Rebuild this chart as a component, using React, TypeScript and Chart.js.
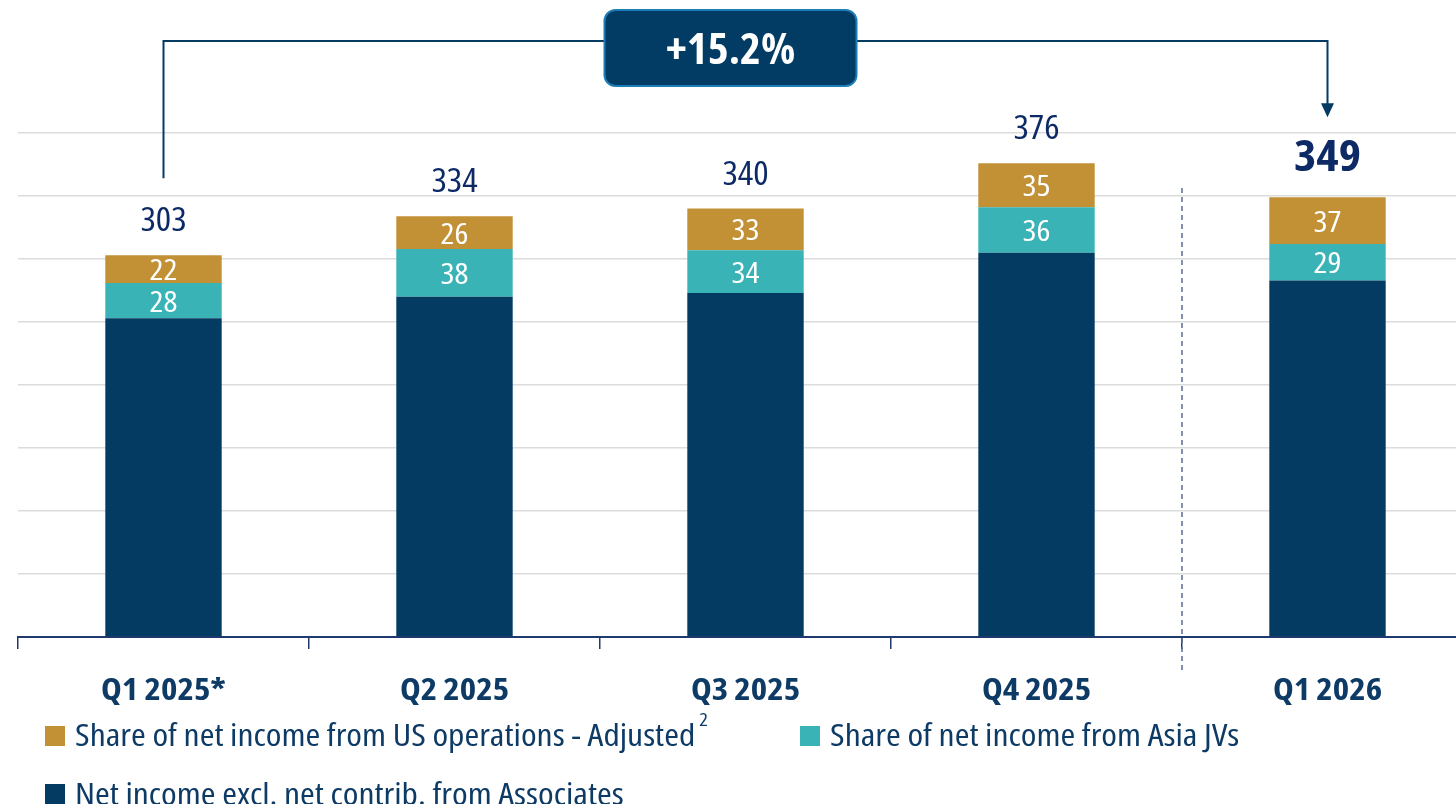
import React, { useEffect, useRef } from "react";
import { Chart, registerables } from "chart.js";

Chart.register(...registerables);

const categories = ["Q1 2025*", "Q2 2025", "Q3 2025", "Q4 2025", "Q1 2026"];
const netIncomeExcl = [253, 270, 273, 305, 283];
const asiaJVs = [28, 38, 34, 36, 29];
const usOps = [22, 26, 33, 35, 37];
const totals = [303, 334, 340, 376, 349];
const growthLabel = "+15.2%";
const legendLabels = [
  "Share of net income from US operations - Adjusted",
  "Share of net income from Asia JVs",
  "Net income excl. net contrib. from Associates",
];
const legendSup = "2";

const NAVY = "#033b63";
const TEAL = "#3ab3b7";
const GOLD = "#c39135";
const TEXT_NAVY = "#0d3b66";
const TOTAL_NAVY = "#0e2a66";
const FAMILY = '"Open Sans", "DejaVu Sans Condensed", sans-serif';

let condenseMode: "stretch" | "scale" | null = null;
function detectMode(ctx: CanvasRenderingContext2D) {
  if (condenseMode) return condenseMode;
  ctx.save();
  ctx.font = `400 40px ${FAMILY}`;
  const w1 = ctx.measureText("Share of net income").width;
  try {
    (ctx as any).fontStretch = "condensed";
  } catch (e) {}
  const w2 = ctx.measureText("Share of net income").width;
  ctx.restore();
  condenseMode = w2 < w1 * 0.92 ? "stretch" : "scale";
  return condenseMode;
}

function drawText(
  ctx: CanvasRenderingContext2D,
  text: string,
  x: number,
  y: number,
  weight: number,
  size: number,
  color: string,
  align: CanvasTextAlign = "center",
  widen = 1.13
): number {
  const mode = detectMode(ctx);
  ctx.save();
  ctx.font = `${weight} ${size}px ${FAMILY}`;
  ctx.fillStyle = color;
  ctx.textAlign = align;
  ctx.textBaseline = "alphabetic";
  let f = widen;
  if (mode === "stretch") {
    (ctx as any).fontStretch = "condensed";
  } else {
    f = 0.82 * widen;
  }
  ctx.translate(x, y);
  ctx.scale(f, 1);
  ctx.fillText(text, 0, 0);
  const w = ctx.measureText(text).width * f;
  ctx.restore();
  return w;
}

const overlayPlugin = {
  id: "overlay",
  afterDatasetsDraw(chart: any) {
    const ctx: CanvasRenderingContext2D = chart.ctx;
    const x = chart.scales.x;
    const y = chart.scales.y;

    // dashed separator between Q4 2025 and Q1 2026
    const sepX = (x.getPixelForValue(3) + x.getPixelForValue(4)) / 2;
    ctx.save();
    ctx.strokeStyle = "#5b6b93";
    ctx.lineWidth = 1.5;
    ctx.setLineDash([5, 4]);
    ctx.beginPath();
    ctx.moveTo(sepX, 188);
    ctx.lineTo(sepX, 672);
    ctx.stroke();
    ctx.restore();

    // segment labels
    const series = [netIncomeExcl, asiaJVs, usOps];
    categories.forEach((_, i) => {
      const cx = x.getPixelForValue(i);
      let base = 0;
      series.forEach((s, si) => {
        const top = base + s[i];
        if (si > 0) {
          const mid = (y.getPixelForValue(base) + y.getPixelForValue(top)) / 2;
          drawText(ctx, String(s[i]), cx, mid + 11, 400, 29, "#ffffff");
        }
        base = top;
      });
      const topPx = y.getPixelForValue(totals[i]);
      if (i === categories.length - 1) {
        drawText(ctx, String(totals[i]), cx, topPx - 26, 700, 42, TOTAL_NAVY);
      } else {
        drawText(ctx, String(totals[i]), cx, topPx - 24, 400, 32, TOTAL_NAVY);
      }
      // x-axis labels
      drawText(ctx, categories[i], cx, 700, 700, 31, TEXT_NAVY);
    });

    // growth bracket
    const lx = x.getPixelForValue(0);
    const rx = x.getPixelForValue(4);
    const by = 41;
    const lBottom = y.getPixelForValue(totals[0]) - 77;
    const tip = y.getPixelForValue(totals[4]) - 80;
    ctx.save();
    ctx.strokeStyle = NAVY;
    ctx.lineWidth = 2;
    ctx.beginPath();
    ctx.moveTo(lx, lBottom);
    ctx.lineTo(lx, by);
    ctx.lineTo(rx, by);
    ctx.lineTo(rx, tip - 13);
    ctx.stroke();
    ctx.fillStyle = NAVY;
    ctx.beginPath();
    ctx.moveTo(rx - 6.5, tip - 14);
    ctx.lineTo(rx + 6.5, tip - 14);
    ctx.lineTo(rx, tip);
    ctx.closePath();
    ctx.fill();
    // box
    const boxCx = (lx + rx) / 2 - 15;
    const bw = 252;
    const bh = 76;
    ctx.beginPath();
    (ctx as any).roundRect(boxCx - bw / 2, 10, bw, bh, 11);
    ctx.fillStyle = "#023b63";
    ctx.fill();
    ctx.strokeStyle = "#1d7db5";
    ctx.lineWidth = 2;
    ctx.stroke();
    ctx.restore();
    drawText(ctx, growthLabel, boxCx, 64, 700, 42, "#ffffff", "center", 1.06);

    // legend
    const colors = [GOLD, TEAL, NAVY];
    const items = [
      { sx: 45, sy: 726, ty: 746 },
      { sx: 800, sy: 726, ty: 746 },
      { sx: 45, sy: 784, ty: 805 },
    ];
    items.forEach((it, k) => {
      ctx.save();
      ctx.fillStyle = colors[k];
      ctx.fillRect(it.sx, it.sy, 20, 20);
      ctx.restore();
      const w = drawText(ctx, legendLabels[k], it.sx + 30, it.ty, 400, 31, TEXT_NAVY, "left", 1.15);
      if (k === 0) {
        drawText(ctx, legendSup, it.sx + 30 + w + 4, 726, 400, 18, TEXT_NAVY, "left");
      }
    });
  },
};

export default function App() {
  const ref = useRef<HTMLCanvasElement | null>(null);
  useEffect(() => {
    if (!ref.current) return;
    const chart = new Chart(ref.current, {
      type: "bar",
      data: {
        labels: categories,
        datasets: [
          { label: legendLabels[2], data: netIncomeExcl, backgroundColor: NAVY, borderWidth: 0 },
          { label: legendLabels[1], data: asiaJVs, backgroundColor: TEAL, borderWidth: 0 },
          { label: legendLabels[0], data: usOps, backgroundColor: GOLD, borderWidth: 0 },
        ],
      },
      options: {
        responsive: false,
        animation: false,
        devicePixelRatio: 1,
        layout: { padding: { left: 18, right: 17, top: 133, bottom: 155 } },
        datasets: { bar: { barPercentage: 0.4, categoryPercentage: 1 } },
        plugins: { legend: { display: false }, tooltip: { enabled: false } },
        scales: {
          x: {
            stacked: true,
            grid: {
              display: true,
              drawOnChartArea: false,
              drawTicks: true,
              tickLength: 12,
              color: "#1f3a6e",
              lineWidth: 1.5,
              offset: true,
            },
            border: { display: true, color: "#1f3a6e", width: 2 },
            ticks: { display: false },
          },
          y: {
            stacked: true,
            min: 0,
            max: 400,
            ticks: { stepSize: 50, display: false },
            grid: { color: "#dcdcdc", lineWidth: 1.5, drawTicks: false },
            border: { display: false },
          },
        },
      },
      plugins: [overlayPlugin],
    } as any);
    return () => chart.destroy();
  }, []);
  return (
    <div
      style={{
        position: "fixed",
        left: 0,
        top: 0,
        width: 1456,
        height: 804,
        overflow: "hidden",
        background: "#ffffff",
      }}
    >
      <canvas ref={ref} width={1490} height={804} style={{ display: "block" }} />
    </div>
  );
}
